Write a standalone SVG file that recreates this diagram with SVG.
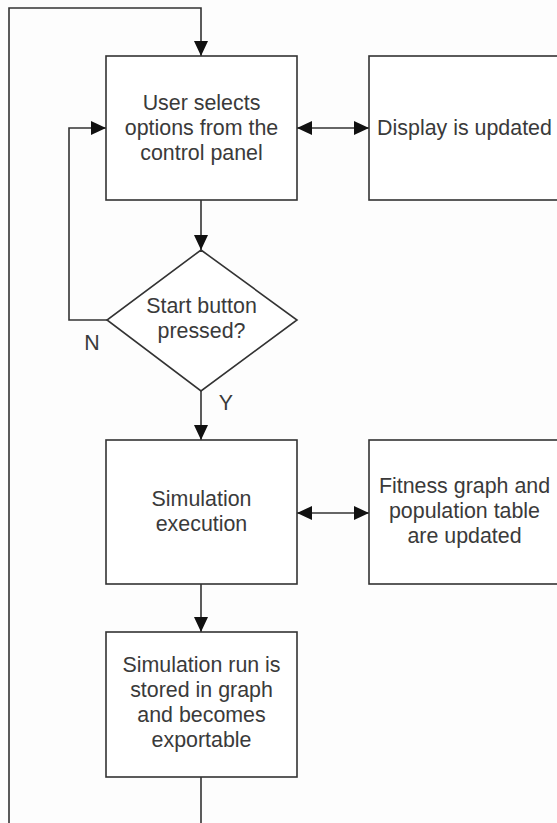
<svg xmlns="http://www.w3.org/2000/svg" width="557" height="823" viewBox="0 0 557 823">
<style>
.box{fill:#fff;stroke:#333;stroke-width:1.6}
.ln{fill:none;stroke:#333;stroke-width:1.6}
.t{font-family:"Liberation Sans",Arial,sans-serif;font-size:21.4px;fill:#3a3a3a;text-anchor:middle}
</style>
<defs>
<marker id="ah" markerUnits="userSpaceOnUse" markerWidth="16" markerHeight="14" refX="15" refY="7" orient="auto-start-reverse" viewBox="0 0 16 14">
<path d="M0,0 L15,7 L0,14 Z" fill="#111"/>
</marker>
</defs>
<rect width="557" height="823" fill="#fdfdfd"/>
<g id="connectors">
<path class="ln" d="M201,823 V777"/>
<path class="ln" d="M9,823 V8 H201 V56" marker-end="url(#ah)"/>
<path class="ln" d="M201,200 V250" marker-end="url(#ah)"/>
<path class="ln" d="M107,320 H69 V128 H106" marker-end="url(#ah)"/>
<path class="ln" d="M201,391 V440" marker-end="url(#ah)"/>
<path class="ln" d="M201,584 V632" marker-end="url(#ah)"/>
<path class="ln" d="M297,128 H369" marker-start="url(#ah)" marker-end="url(#ah)"/>
<path class="ln" d="M297,513 H369" marker-start="url(#ah)" marker-end="url(#ah)"/>
<text class="t" x="92" y="350">N</text>
<text class="t" x="226" y="410">Y</text>
</g>
<g id="user-selects">
<rect class="box" x="106" y="56" width="191" height="144"/>
<text class="t" x="201.5" y="110">User selects</text>
<text class="t" x="201.5" y="135">options from the</text>
<text class="t" x="201.5" y="160">control panel</text>
</g>
<g id="display-updated">
<rect class="box" x="369" y="56" width="191" height="144"/>
<text class="t" x="464.5" y="135">Display is updated</text>
</g>
<g id="start-pressed">
<polygon class="box" points="201,250 297,320 201,391 107,320"/>
<text class="t" x="201.5" y="313">Start button</text>
<text class="t" x="201.5" y="338">pressed?</text>
</g>
<g id="simulation-execution">
<rect class="box" x="106" y="440" width="191" height="144"/>
<text class="t" x="201.5" y="506">Simulation</text>
<text class="t" x="201.5" y="531">execution</text>
</g>
<g id="fitness-updated">
<rect class="box" x="369" y="440" width="191" height="144"/>
<text class="t" x="464.5" y="493">Fitness graph and</text>
<text class="t" x="464.5" y="518">population table</text>
<text class="t" x="464.5" y="543">are updated</text>
</g>
<g id="simulation-stored">
<rect class="box" x="106" y="632" width="191" height="145"/>
<text class="t" x="201.5" y="672">Simulation run is</text>
<text class="t" x="201.5" y="697">stored in graph</text>
<text class="t" x="201.5" y="722">and becomes</text>
<text class="t" x="201.5" y="747">exportable</text>
</g>
</svg>
